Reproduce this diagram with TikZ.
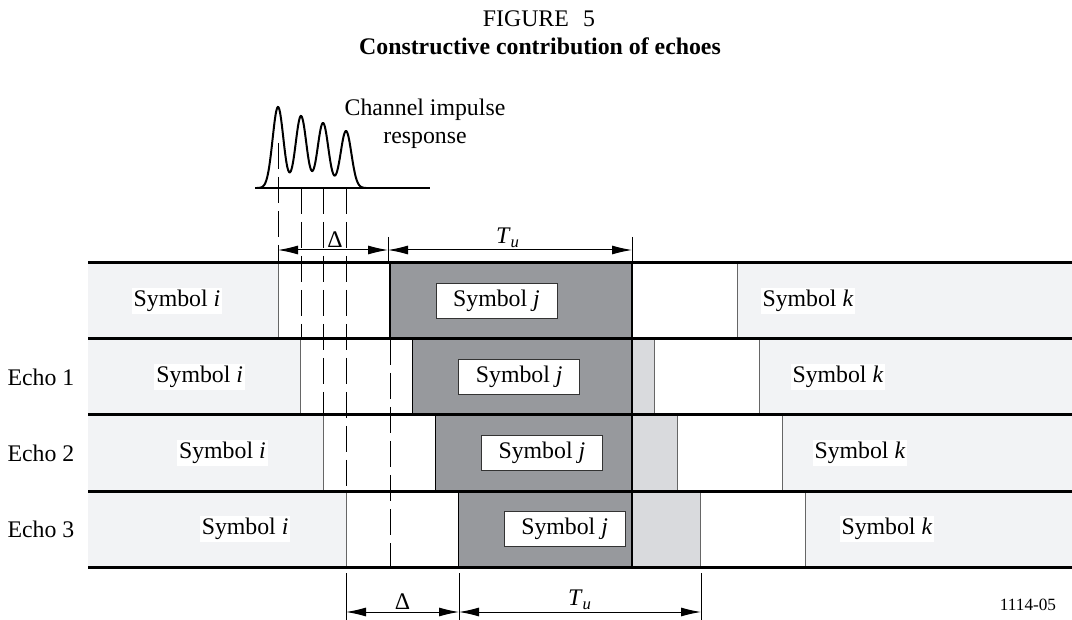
\documentclass[tikz,border=0pt]{standalone}
\usepackage{fontspec}
\setmainfont{Liberation Serif}
\usetikzlibrary{arrows.meta}
\definecolor{lightbg}{RGB}{242,243,245}
\definecolor{midbg}{RGB}{217,218,221}
\definecolor{darkbg}{RGB}{151,153,157}
\tikzset{
  lbl/.style={font=\fontsize{11.9}{14}\selectfont, inner sep=1pt},
  symlbl/.style={lbl, fill=white},
  symbox/.style={lbl, draw=black!80, fill=white, line width=0.5pt,
    minimum width=60.5pt, minimum height=17.5pt},
  dimline/.style={{Latex[length=10pt,width=4.5pt]}-{Latex[length=10pt,width=4.5pt]}, line width=0.5pt},
  guide/.style={dash pattern=on 13pt off 4pt, line width=0.5pt},
  border/.style={line width=0.5pt, draw=black!60}
}
\begin{document}
\begin{tikzpicture}[x=0.5pt, y=-0.5pt]
  \useasboundingbox (0,0) rectangle (1072,620);
  \node[lbl] (fig) at (539,19) {FIGURE\hspace{0.6em}5};
  \node[lbl, font=\fontsize{11.9}{14}\selectfont\bfseries] (title) at (540,46) {Constructive contribution of echoes};

  % symbol rows, each echo shifted by one peak spacing
  \foreach \r/\kx in {0/808,1/838,2/860,3/887} {
    \pgfmathsetmacro\dx{22.7*\r}
    \pgfmathsetmacro\yt{263+76*\r}
    \pgfmathsetmacro\yb{339+76*\r}
    \fill[lightbg] (88,\yt) rectangle (1072,\yb);
    \fill[white] (278+\dx,\yt) rectangle (737+\dx,\yb);
    \fill[darkbg] (390+\dx,\yt) rectangle (632,\yb);
    \fill[midbg] (632,\yt) rectangle (632+\dx,\yb);
    \draw[border] (278+\dx,\yt) -- (278+\dx,\yb);
    \draw[border] (632+\dx,\yt) -- (632+\dx,\yb);
    \draw[border] (737+\dx,\yt) -- (737+\dx,\yb);
    \draw[line width=0.6pt] (390+\dx,\yt) -- (390+\dx,\yb);
    \node[symlbl] (si\r) at (177+\dx,301+76*\r) {Symbol \textit{i}};
    \node[symbox] (sj\r) at (496.5+\dx,301+76*\r) {Symbol \textit{j}};
    \node[symlbl] (sk\r) at (\kx,301+76*\r) {Symbol \textit{k}};
  }
  \foreach \r in {1,2,3}
    \node[lbl] (echo\r) at (41,301+76*\r) {Echo \r};
  \foreach \r in {0,...,4}
    \draw[line width=1.5pt] (88,263+76*\r) -- (1072,263+76*\r);
  \draw[line width=1pt] (632,263) -- (632,567);

  % channel impulse response
  \draw[line width=1pt] (255,188) -- (430,188);
  \draw[line width=1pt] plot[domain=257:366, samples=200] (\x,
    {188 - 81*exp(max(0-((\x-278)*(\x-278))/58,-20))
         - 72*exp(max(0-((\x-301)*(\x-301))/58,-20))
         - 65*exp(max(0-((\x-323)*(\x-323))/58,-20))
         - 57*exp(max(0-((\x-346)*(\x-346))/58,-20))});
  \node[lbl, align=center] (cir) at (425,124) {Channel impulse\\response};

  % guide lines from the peaks
  \draw[guide] (278,143) -- (278,263);
  \draw[guide] (301,188) -- (301,339);
  \draw[guide] (323,188) -- (323,415);
  \draw[guide] (346,188) -- (346,491);
  \draw[guide] (390,339) -- (390,567);

  % dimensions
  \coordinate (d0) at (278,250);
  \coordinate (d1) at (388,250);
  \coordinate (d2) at (632,250);
  \draw[line width=0.5pt] (388,237) -- (388,263);
  \draw[line width=0.5pt] (632,237) -- (632,263);
  \draw[dimline] (d0) -- node[lbl, above, xshift=1pt] (dl0) {Δ} (d1);
  \draw[dimline] (d1) -- node[lbl, above, xshift=-1pt] (tu0) {\textit{T}\textsubscript{\textit{u}}} (d2);

  \coordinate (b0) at (346,612);
  \coordinate (b1) at (459,612);
  \coordinate (b2) at (701,612);
  \foreach \bx in {346,459,701}
    \draw[line width=0.5pt] (\bx,573) -- (\bx,620);
  \draw[dimline] (b0) -- node[lbl, above] (dl1) {Δ} (b1);
  \draw[dimline] (b1) -- node[lbl, above] (tu1) {\textit{T}\textsubscript{\textit{u}}} (b2);

  \node[font=\fontsize{8.6}{10}\selectfont, inner sep=1pt] (ref) at (1028,605) {1114-05};
\end{tikzpicture}
\end{document}
